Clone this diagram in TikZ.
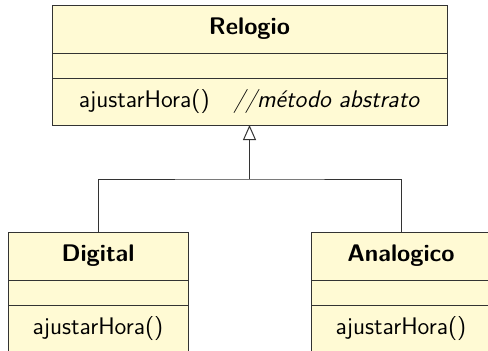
\documentclass[tikz,border=0pt]{standalone}
\usetikzlibrary{positioning,arrows.meta}
\definecolor{umlfill}{RGB}{255,250,212}
\definecolor{umlline}{RGB}{51,51,51}
\tikzset{
  classpart/.style={draw=umlline, fill=umlfill, inner sep=0pt, outer sep=0pt,
    line width=0.5pt, font=\fontsize{12}{14}\selectfont\sffamily},
  topbox/.style={classpart, minimum width=197.5pt},
  subbox/.style={classpart, minimum width=90pt},
  inherits/.style={draw=umlline, line width=0.5pt},
}
\begin{document}
\begin{tikzpicture}[x=0.5pt,y=0.5pt]
\useasboundingbox (0,0) rectangle (488,-350);
% superclass
\node [topbox, minimum height=24pt] (relogioN) at (249.5,-29) {\bfseries Relogio};
\node [topbox, minimum height=12.5pt, below=0pt of relogioN] (relogioA) {};
\node [topbox, minimum height=23.5pt, below=0pt of relogioA] (relogioM)
  {ajustarHora()\quad\textit{//método abstrato}};
% subclasses
\node [subbox, minimum height=24pt] (digitalN) at (98,-256) {\bfseries Digital};
\node [subbox, minimum height=12.5pt, below=0pt of digitalN] (digitalA) {};
\node [subbox, minimum height=23.5pt, below=0pt of digitalA] (digitalM) {ajustarHora()};
\node [subbox, minimum height=24pt] (analogN) at (401,-256) {\bfseries Analogico};
\node [subbox, minimum height=12.5pt, below=0pt of analogN] (analogA) {};
\node [subbox, minimum height=23.5pt, below=0pt of analogA] (analogM) {ajustarHora()};
% generalisation
\coordinate (join) at (relogioM.south |- 0,-179);
\draw [inherits] (digitalN.north) |- (join) -| (analogN.north);
\draw [inherits, -{Triangle[open, length=7.5pt, width=6.5pt]}] (join) -- (relogioM.south);
\end{tikzpicture}
\end{document}
